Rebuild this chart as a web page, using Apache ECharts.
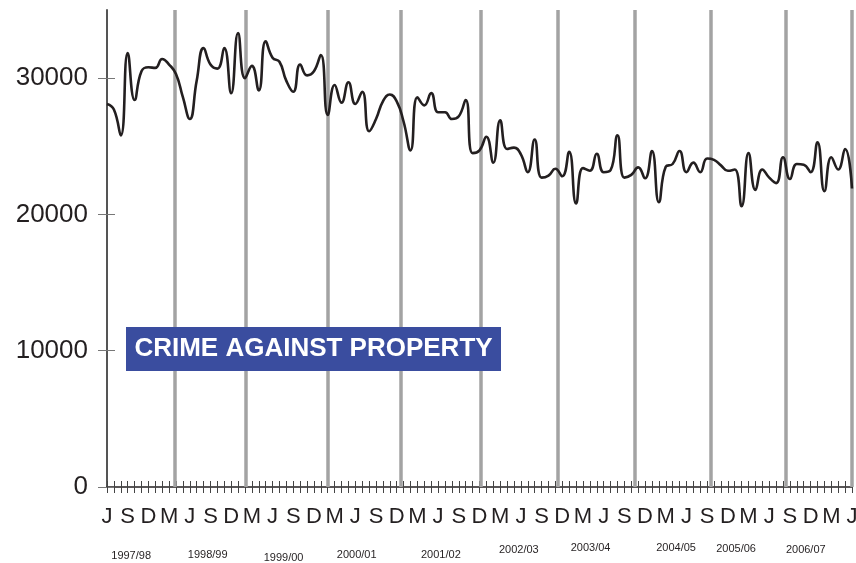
<!DOCTYPE html>
<html>
<head>
<meta charset="utf-8">
<script src="https://cdn.jsdelivr.net/npm/echarts@6/dist/echarts.min.js"></script>
<style>
html,body{margin:0;padding:0;background:#fff}
#chart{width:856px;height:563px}
</style>
</head>
<body>
<div id="chart"></div>
<script>
// monthly counts, June 1997 .. June 2006
var crimes = [
	28100, 27700, 25800, 31850, 28400, 30500, 30800, 30750, 31400, 31000,
	30300, 28600, 27000, 29800, 32200, 31000, 30700, 32200, 28900, 33300,
	30000, 30900, 29100, 32700, 31500, 31200, 29800, 29000, 31000, 30200,
	30500, 31700, 27300, 29500, 28200, 29700, 28100, 29000, 26100, 27000,
	28300, 28800, 28300, 26800, 24700, 28600, 28000, 28900, 27500, 27500,
	27000, 27200, 28400, 24500, 24700, 25700, 23800, 26900, 24800, 24900,
	24400, 23100, 25500, 22700, 22850, 23350, 22800, 24600, 20800, 23400,
	23200, 24450, 23100, 23250, 25800, 22700, 22900, 23450, 22650, 24650,
	20900, 23500, 23700, 24650, 23100, 23800, 23100, 24100, 24000, 23600,
	23200, 23300, 20600, 24500, 21800, 23300, 22700, 22300, 24200, 22600,
	23700, 23650, 23100, 25300, 21700, 24200, 23300, 24800, 21900
];
// one label every third month
var tickLabels = [
	'J','S','D','M','J','S','D','M','J','S','D','M','J','S','D','M',
	'J','S','D','M','J','S','D','M','J','S','D','M','J','S','D','M',
	'J','S','D','M','J'
];
var yearNames = ['1997/98','1998/99','1999/00','2000/01','2001/02',
	'2002/03','2003/04','2004/05','2005/06','2006/07'];
var yAxisTicks = [0, 10000, 20000, 30000];

// layout: where the year dividers and year names sit (in months from start)
var yearBreaks = [9.86, 20.1, 32.07, 42.57, 54.2, 65.4, 76.45, 87.5, 98.4, 108];
var yearNameAt = [3.5, 14.6, 25.6, 36.2, 48.4, 59.7, 70.1, 82.5, 91.2, 101.3];
var yearNameY = [556, 555, 558, 555, 555, 550, 548, 548, 549, 550];

var ink = '#231f20';
var font = '"Liberation Sans", Arial, sans-serif';

var chart = echarts.init(document.getElementById('chart'));

var option = {
	animation: false,
	grid: {left: 107, right: 4, top: 10, bottom: 76, outerBoundsMode: 'none'},
	xAxis: [
		{
			type: 'value', min: 0, max: 108, interval: 1, position: 'bottom',
			axisLine: {lineStyle: {color: ink, width: 1.5}},
			axisTick: {length: 6, lineStyle: {color: '#444', width: 1}},
			axisLabel: {
				margin: 19, fontSize: 22, color: ink, fontFamily: font,
				showMinLabel: true, showMaxLabel: true,
				formatter: function(v){
					return v % 3 === 0 ? tickLabels[v / 3] : '';
				}
			},
			splitLine: {show: false}
		},
		{
			type: 'value', min: 0, max: 108, interval: 1, position: 'bottom',
			axisLine: {show: false},
			axisTick: {inside: true, length: 6, lineStyle: {color: '#444', width: 1}},
			axisLabel: {show: false},
			splitLine: {show: false}
		}
	],
	yAxis: [
		{
			type: 'value', min: 0, max: 35000, position: 'left',
			axisLine: {show: true, lineStyle: {color: '#555', width: 2}},
			axisTick: {show: true, length: 9, customValues: yAxisTicks, lineStyle: {color: '#777'}},
			axisLabel: {
				margin: 19, fontSize: 26, color: ink, fontFamily: font, customValues: yAxisTicks,
				formatter: function(v){ return String(v); }
			},
			splitLine: {show: false}
		},
		{
			type: 'value', min: 0, max: 35000, position: 'left',
			axisLine: {show: false},
			axisTick: {show: true, inside: true, length: 8, customValues: yAxisTicks, lineStyle: {color: '#777'}},
			axisLabel: {show: false},
			splitLine: {show: false}
		}
	],
	series: [{
		name: 'Crime against property',
		type: 'line',
		z: 3,
		smooth: 0.5,
		showSymbol: false,
		lineStyle: {color: ink, width: 2.6},
		data: crimes.map(function(v, i){ return [i, v]; }),
		markLine: {
			z: 1,
			silent: true,
			symbol: 'none',
			label: {show: false},
			lineStyle: {color: '#a3a3a3', width: 3.5, type: 'solid'},
			data: yearBreaks.map(function(b){ return {xAxis: b}; })
		}
	}]
};
chart.setOption(option);

var graphics = [{
	type: 'group',
	left: 126, top: 327,
	z: 100,
	children: [
		{type: 'rect', z: 100, shape: {x: 0, y: 0, width: 375, height: 44}, style: {fill: '#3a4d9f'}},
		{type: 'text', z: 101, x: 187.5, y: 22, style: {
			text: 'CRIME AGAINST PROPERTY', fill: '#fff', fontSize: 26, fontWeight: 'bold',
			fontFamily: font, align: 'center', verticalAlign: 'middle'
		}}
	]
}];
yearNames.forEach(function(name, i){
	var px = chart.convertToPixel({xAxisIndex: 0}, yearNameAt[i]);
	graphics.push({
		type: 'text', x: px, y: yearNameY[i],
		style: {text: name, fill: ink, fontSize: 11, fontFamily: font, align: 'center', verticalAlign: 'middle'}
	});
});
chart.setOption({graphic: graphics});
</script>
</body>
</html>
